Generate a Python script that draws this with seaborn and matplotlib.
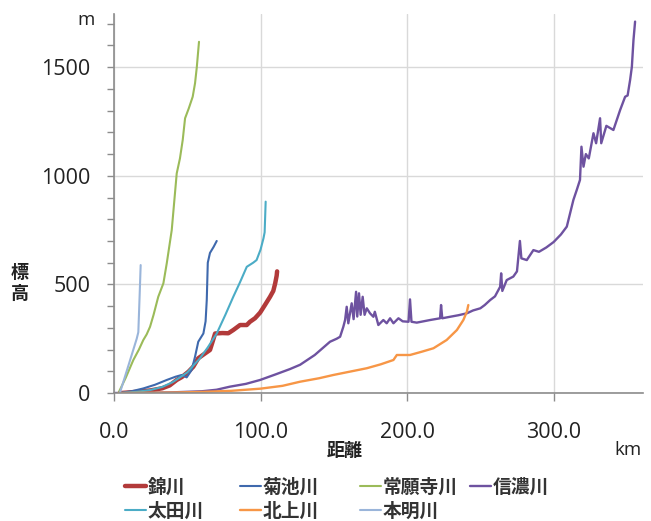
import matplotlib
matplotlib.use("Agg")
import matplotlib.pyplot as plt
from matplotlib.ticker import MultipleLocator, FormatStrFormatter
import seaborn as sns
import pandas as pd

# River longitudinal profiles: distance from mouth (km) vs elevation (m)
rivers = ["錦川", "菊池川", "常願寺川", "信濃川", "太田川", "北上川", "本明川"]

nishiki_km = [5, 15, 25, 33, 38, 42.8, 46.2, 50.8, 54.1, 57.5, 62.1, 65.5, 67, 69, 74, 78,
              81.4, 86, 90.6, 92.8, 96.2, 99.7, 103, 106.5, 108.7, 110, 111, 111.3]
nishiki_m = [0, 5, 12, 22, 35, 60, 73, 98, 121, 160, 182, 198, 230, 274, 276, 275,
             290, 313, 313, 328, 344, 370, 405, 443, 470, 505, 540, 560]

kikuchi_km = [4, 12, 20, 28, 36, 42, 46.2, 49.6, 53, 55.3, 57.5, 61, 62.5, 63.3, 64, 65.5, 68, 70.1]
kikuchi_m = [0, 8, 21, 38, 60, 75, 83, 72, 106, 167, 236, 274, 330, 428, 600, 645, 673, 700]

joganji_km = [3, 8, 13.2, 17, 20, 22.3, 24.6, 27, 30.2, 33.7, 36, 39.4, 42.8, 45, 46.9,
              48.5, 51, 53.7, 55.3, 56.5, 58.0]
joganji_m = [0, 70, 152, 200, 244, 270, 305, 360, 443, 505, 597, 750, 1011, 1080, 1165,
             1265, 1310, 1364, 1426, 1500, 1617]

shinano_km = [0, 20, 40, 60, 70, 79, 90, 99.7, 110, 120, 127, 137, 147.4, 152, 154.3,
              156.5, 157.7, 158.8, 159.9, 162.2, 163.5, 165.2, 166, 167.2, 168.3, 169.7,
              171, 172.5, 174.7, 177, 178, 180.4, 183.8, 186.1, 188.4, 190.7, 194.1, 197,
              201, 202, 203, 206.6, 215.7, 222.5, 223.2, 224, 229.4, 235, 240.8, 245, 250,
              253, 256.7, 260, 263.5, 264.2, 265, 268, 272.5, 275, 277, 278, 281.7, 286.2,
              290, 295, 300, 305, 309, 313.5, 315.8, 318, 319, 320.4, 322, 324, 327.2, 329,
              331.7, 332.5, 336, 340.8, 345.4, 348.8, 350.5, 352.2, 353.4, 354.5, 355.6]
shinano_m = [0, 1, 3, 8, 15, 29, 42, 60, 85, 110, 130, 175, 236, 250, 259,
             305, 336, 397, 321, 413, 340, 466, 352, 459, 360, 443,
             360, 390, 367, 351, 374, 313, 336, 321, 344, 321, 344, 330,
             328, 431, 328, 324, 336, 344, 405, 344, 351, 358, 367, 380, 390,
             405, 428, 445, 489, 551, 470, 520, 536, 560, 700, 620, 612, 658,
             650, 670, 695, 730, 766, 889, 935, 981, 1134, 1042, 1100, 1080, 1196, 1150,
             1265, 1150, 1230, 1211, 1303, 1364, 1370, 1441, 1502, 1625, 1710]

ota_km = [5, 15, 25, 33, 40, 45, 50, 54, 58.7, 64, 70.1, 76, 81.4, 86, 90.6, 95, 97.3,
          100, 102, 102.8, 103.5]
ota_m = [0, 5, 14, 28, 50, 72, 95, 125, 160, 210, 274, 360, 443, 510, 581, 600, 612,
         660, 712, 740, 881]

kitakami_km = [3, 20, 40, 60, 80, 100, 115, 127, 140, 149.7, 160, 172.5, 182, 190.7, 193,
               202, 210, 218, 227, 234, 238.4, 240.8, 241.8]
kitakami_m = [0, 1, 2, 5, 10, 20, 33, 52, 68, 83, 97, 114, 132, 152, 175,
              175, 190, 206, 244, 290, 336, 374, 405]

honmyo_km = [4, 10, 15.5, 16.6, 17.5, 18.2]
honmyo_m = [0, 130, 250, 280, 450, 589]

series = {
    "錦川": (nishiki_km, nishiki_m),
    "菊池川": (kikuchi_km, kikuchi_m),
    "常願寺川": (joganji_km, joganji_m),
    "信濃川": (shinano_km, shinano_m),
    "太田川": (ota_km, ota_m),
    "北上川": (kitakami_km, kitakami_m),
    "本明川": (honmyo_km, honmyo_m),
}

colors = {
    "錦川": "#B23A3A",
    "菊池川": "#3F69AD",
    "常願寺川": "#9BBB59",
    "信濃川": "#6E52A0",
    "太田川": "#4BACC6",
    "北上川": "#F79646",
    "本明川": "#9AB5DA",
}
widths = {"錦川": 3.2, "菊池川": 1.5, "常願寺川": 1.5, "信濃川": 1.7,
          "太田川": 1.5, "北上川": 1.7, "本明川": 1.5}

frames = []
for name in rivers:
    km, m = series[name]
    frames.append(pd.DataFrame({"river": name, "km": km, "m": m}))
df = pd.concat(frames, ignore_index=True)

sns.set_theme(style="white")
jp = ["Noto Sans CJK JP", "DejaVu Sans"]
num = ["Open Sans", "Noto Sans CJK JP", "DejaVu Sans"]
plt.rcParams["font.family"] = num

fig = plt.figure(figsize=(6.51, 5.21), dpi=100)
W, H = 651, 521
ax = fig.add_axes([114 / W, 1 - 393 / H, (643 - 114) / W, (393 - 14) / H])

for name in rivers:
    sub = df[df["river"] == name]
    sns.lineplot(data=sub, x="km", y="m", ax=ax, color=colors[name],
                 linewidth=widths[name], sort=False, estimator=None, label=name,
                 solid_joinstyle="round")

ax.set_xlim(0, 361)
ax.set_ylim(0, 1745)
ax.set_xlabel("")
ax.set_ylabel("")

ax.xaxis.set_major_locator(MultipleLocator(100))
ax.xaxis.set_major_formatter(FormatStrFormatter("%.1f"))
ax.yaxis.set_major_locator(MultipleLocator(500))
ax.yaxis.set_minor_locator(MultipleLocator(100))

ax.grid(True, which="major", color="#d9d9d9", linewidth=1.0)
for s in ["top", "right"]:
    ax.spines[s].set_visible(False)
for s in ["left", "bottom"]:
    ax.spines[s].set_color("#8c8c8c")
    ax.spines[s].set_linewidth(1.2)

ax.tick_params(axis="y", which="both", direction="out", length=5, width=1,
               color="#8c8c8c", left=True, pad=12, labelsize=15.5, labelcolor="#222222")
ax.tick_params(axis="x", which="major", direction="out", length=6, width=1,
               color="#8c8c8c", bottom=True, pad=15, labelsize=15.5, labelcolor="#222222")

# axis titles and units
fig.text(345 / W, 1 - 450 / H, "距離", ha="center", va="center", fontsize=13,
         fontweight="bold", family=jp, color="#222222")
fig.text(628 / W, 1 - 450 / H, "km", ha="center", va="center", fontsize=13.5,
         family=num, color="#222222")
fig.text(86 / W, 1 - 20 / H, "m", ha="center", va="center", fontsize=13.5,
         family=num, color="#222222")
fig.text(20 / W, 1 - 283 / H, "標\n高", ha="center", va="center", fontsize=13,
         fontweight="bold", family=jp, color="#222222", linespacing=1.15)

# legend laid out in fixed-width columns
handles, labels = ax.get_legend_handles_labels()
ax.get_legend().remove()
hmap = dict(zip(labels, handles))
columns = [(125, ["錦川", "太田川"]), (240, ["菊池川", "北上川"]),
           (360, ["常願寺川", "本明川"]), (470, ["信濃川"])]
for xpix, names in columns:
    fig.legend([hmap[n] for n in names], names, loc="upper left",
               bbox_to_anchor=(xpix / W, 1 - 478 / H), frameon=False,
               prop={"family": jp, "size": 13.5, "weight": "bold"},
               handlelength=1.1, handletextpad=0.1, borderpad=0, borderaxespad=0,
               labelspacing=0.25, labelcolor="#333333")

fig.savefig("out.png", dpi=100)
